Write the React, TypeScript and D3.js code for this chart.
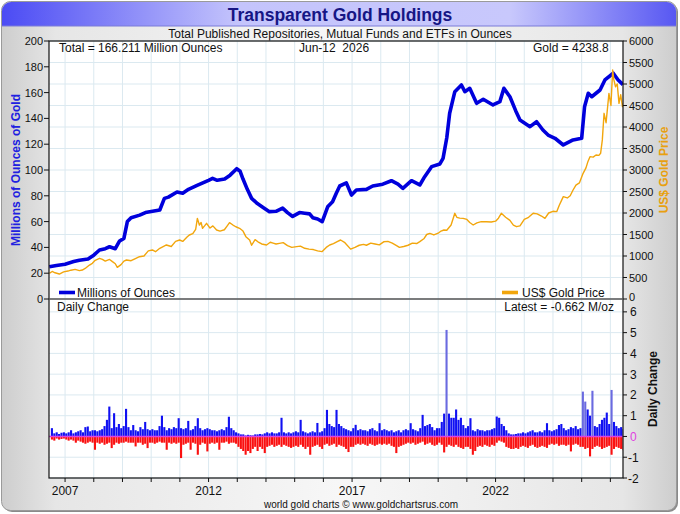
import React from "react";
import * as d3 from "d3";

// ---- Data ----
const HOLD_YEARS = [2006.45, 2006.7, 2007.0, 2007.3, 2007.5, 2007.8, 2008.0, 2008.2, 2008.4, 2008.55, 2008.75, 2008.9, 2009.05, 2009.17, 2009.3, 2009.6, 2009.8, 2010.05, 2010.3, 2010.46, 2010.6, 2010.9, 2011.1, 2011.3, 2011.6, 2011.8, 2012.0, 2012.14, 2012.3, 2012.56, 2012.75, 2012.98, 2013.1, 2013.2, 2013.35, 2013.5, 2013.7, 2013.9, 2014.12, 2014.35, 2014.58, 2014.75, 2014.93, 2015.17, 2015.35, 2015.52, 2015.63, 2015.8, 2015.96, 2016.15, 2016.32, 2016.45, 2016.57, 2016.8, 2016.98, 2017.15, 2017.5, 2017.72, 2018.07, 2018.37, 2018.6, 2018.77, 2019.07, 2019.36, 2019.53, 2019.77, 2020.06, 2020.17, 2020.3, 2020.4, 2020.58, 2020.81, 2020.93, 2021.1, 2021.34, 2021.57, 2021.91, 2022.15, 2022.29, 2022.5, 2022.7, 2022.85, 2023.2, 2023.43, 2023.65, 2023.83, 2024.07, 2024.36, 2024.7, 2025.0, 2025.1, 2025.23, 2025.35, 2025.64, 2025.81, 2026.1, 2026.27, 2026.44];
const HOLD_OZ = [25, 26, 27, 29, 30, 31, 34, 38, 39, 40.5, 39, 45, 47, 60, 63, 65, 67, 68, 69, 78, 79, 83, 82, 85, 88, 90, 92, 93.5, 92, 93, 96, 101, 99, 93, 85, 78, 74, 71, 67.7, 68, 70.5, 67, 64, 67, 66.5, 66, 63, 62, 60, 71.5, 75.4, 82, 87.6, 90, 80.6, 84.5, 85, 87.6, 89, 91.7, 89, 85.8, 91.7, 88.4, 94.8, 102.6, 104.7, 109, 125, 144, 160.7, 165.9, 160.7, 163.3, 151.7, 154.8, 150.4, 153, 163.3, 156.8, 146, 138.8, 133.6, 137.4, 131, 127.1, 124.6, 119.4, 123.3, 124.6, 149, 159.5, 156.8, 162, 169.8, 175, 169.8, 166.2];

const GOLD_YEARS = [2006.45, 2006.55, 2006.65, 2006.8, 2006.95, 2007.1, 2007.2, 2007.35, 2007.5, 2007.6, 2007.7, 2007.85, 2007.95, 2008.05, 2008.2, 2008.3, 2008.4, 2008.55, 2008.65, 2008.75, 2008.82, 2008.95, 2009.05, 2009.14, 2009.3, 2009.45, 2009.59, 2009.75, 2009.9, 2010.04, 2010.15, 2010.3, 2010.45, 2010.53, 2010.7, 2010.85, 2010.99, 2011.1, 2011.25, 2011.33, 2011.45, 2011.55, 2011.61, 2011.68, 2011.74, 2011.79, 2011.86, 2011.93, 2012.05, 2012.15, 2012.28, 2012.4, 2012.55, 2012.65, 2012.73, 2012.85, 2012.95, 2013.08, 2013.2, 2013.3, 2013.43, 2013.5, 2013.62, 2013.72, 2013.85, 2014.02, 2014.15, 2014.25, 2014.35, 2014.47, 2014.6, 2014.75, 2014.9, 2015.07, 2015.2, 2015.35, 2015.5, 2015.65, 2015.8, 2015.95, 2016.1, 2016.22, 2016.35, 2016.5, 2016.6, 2016.75, 2016.95, 2017.1, 2017.25, 2017.4, 2017.5, 2017.65, 2017.8, 2017.95, 2018.1, 2018.25, 2018.4, 2018.55, 2018.65, 2018.8, 2018.95, 2019.1, 2019.25, 2019.36, 2019.5, 2019.6, 2019.71, 2019.85, 2020.0, 2020.1, 2020.2, 2020.3, 2020.45, 2020.58, 2020.65, 2020.75, 2020.87, 2021.0, 2021.1, 2021.22, 2021.35, 2021.5, 2021.68, 2021.85, 2022.0, 2022.1, 2022.2, 2022.35, 2022.5, 2022.62, 2022.73, 2022.85, 2023.0, 2023.15, 2023.31, 2023.45, 2023.6, 2023.72, 2023.85, 2024.0, 2024.13, 2024.22, 2024.36, 2024.5, 2024.6, 2024.7, 2024.8, 2024.92, 2025.05, 2025.15, 2025.22, 2025.29, 2025.4, 2025.5, 2025.6, 2025.66, 2025.72, 2025.78, 2025.85, 2025.95, 2026.02, 2026.08, 2026.12, 2026.18, 2026.24, 2026.3, 2026.36, 2026.42, 2026.44];
const GOLD_USD = [598, 640, 610, 581, 630, 650, 670, 690, 660, 674, 710, 790, 830, 900, 946, 920, 880, 920, 868, 820, 737, 800, 880, 907, 890, 940, 984, 1000, 1120, 1140, 1100, 1180, 1230, 1256, 1220, 1340, 1372, 1340, 1440, 1488, 1520, 1620, 1876, 1720, 1780, 1644, 1700, 1760, 1650, 1700, 1605, 1580, 1610, 1700, 1775, 1720, 1680, 1644, 1580, 1450, 1372, 1250, 1380, 1330, 1280, 1256, 1320, 1300, 1280, 1295, 1310, 1240, 1200, 1217, 1230, 1180, 1160, 1150, 1120, 1101, 1200, 1256, 1290, 1340, 1372, 1310, 1160, 1200, 1250, 1270, 1250, 1300, 1280, 1260, 1330, 1340, 1300, 1240, 1200, 1220, 1250, 1300, 1290, 1333, 1400, 1500, 1527, 1490, 1530, 1580, 1605, 1600, 1720, 1993, 1900, 1880, 1876, 1850, 1780, 1721, 1770, 1800, 1798, 1790, 1810, 1880, 1993, 1900, 1830, 1720, 1682, 1700, 1850, 1900, 1993, 1980, 1930, 1876, 2000, 2040, 2031, 2180, 2380, 2350, 2400, 2535, 2650, 2700, 2923, 3050, 3200, 3310, 3300, 3350, 3340, 3388, 3700, 4318, 4100, 4783, 4500, 5326, 5100, 4937, 5000, 4550, 4750, 4473, 4550];

// Monthly daily-change extremes, Jul 2006 .. Jun 2026 (M oz)
const DAILY_START = 2006.5;
const DAILY_UP = [
  0.4, 0.15, 0.2, 0.12, 0.18, 0.2,
  0.15, 0.2, 0.3, 0.15, 0.2, 0.25, 0.3, 0.2, 0.45, 0.48, 0.25, 0.3,
  0.3, 0.25, 0.3, 0.35, 0.5, 0.8, 1.44, 0.4, 1.12, 0.45, 0.6, 0.4,
  0.5, 1.33, 0.45, 0.3, 0.55, 0.3, 0.25, 0.45, 0.35, 0.7, 0.35, 0.3,
  0.35, 0.3, 0.3, 0.5, 1.0, 0.45, 0.3, 0.4, 0.35, 0.45, 0.4, 0.88,
  0.4, 0.35, 0.4, 0.75, 0.3, 0.35, 0.5, 0.88, 0.4, 0.3, 0.35, 0.4,
  0.35, 0.3, 0.3, 0.25, 0.3, 0.35, 0.3, 0.45, 0.95, 0.4, 0.3, 0.2,
  0.15, 0.1, 0.1, 0.05, 0.08, 0.06, 0.05, 0.1, 0.1, 0.12, 0.1, 0.15,
  0.2, 0.15, 0.2, 0.15, 0.15, 0.2, 0.9, 0.2, 0.15, 0.2, 0.15, 0.2,
  0.25, 0.2, 0.8, 0.25, 0.2, 0.15, 0.2, 0.25, 0.2, 0.65, 0.2, 0.25,
  0.4, 1.28, 0.6, 0.5, 0.45, 1.28, 0.6, 0.5, 0.4, 0.35, 0.3, 0.25,
  0.4, 0.56, 0.3, 0.35, 0.3, 0.3, 0.25, 0.35, 0.4, 0.3, 0.25, 0.64,
  0.3, 0.35, 0.3, 0.25, 0.3, 0.2, 0.25, 0.3, 0.2, 0.3, 0.35, 0.3,
  0.64, 0.35, 0.3, 0.25, 0.4, 1.04, 0.5, 0.55, 0.6, 0.45, 0.3, 0.4,
  0.4, 0.7, 1.1, 5.13, 1.1, 0.9, 0.9, 1.3, 0.8, 0.9, 0.55, 0.4,
  0.5, 0.88, 0.3, 0.25, 0.35, 0.3, 0.3, 0.25, 0.3, 0.3, 0.35, 0.4,
  0.96, 0.9, 0.6, 0.5, 0.3, 0.15, 0.1, 0.1, 0.12, 0.15, 0.15, 0.2,
  0.15, 0.2, 0.25, 0.3, 0.2, 0.2, 0.25, 0.2, 0.3, 0.64, 0.3, 0.25,
  0.3, 0.35, 0.55, 0.6, 0.4, 0.3, 0.35, 0.45, 0.4, 0.5, 0.35, 0.4,
  2.16, 1.68, 1.3, 1.0, 2.2, 0.5, 0.45, 0.6, 0.8, 0.9, 1.15, 0.6,
  2.24, 0.7, 0.5, 0.4, 0.45, 0.35,
];
const DAILY_DOWN = [
  -0.15, -0.2, -0.1, -0.15, -0.12, -0.1,
  -0.15, -0.2, -0.15, -0.2, -0.3, -0.2, -0.25, -0.3, -0.35, -0.3, -0.25, -0.3,
  -0.64, -0.3, -0.35, -0.3, -0.4, -0.35, -0.3, -0.56, -0.4, -0.3, -0.35, -0.3,
  -0.3, -0.25, -0.3, -0.3, -0.3, -0.48, -0.3, -0.3, -0.4, -0.35, -0.56, -0.3,
  -0.3, -0.35, -0.3, -0.25, -0.3, -0.3, -0.64, -0.3, -0.35, -0.3, -0.35, -0.3,
  -1.04, -0.4, -0.35, -0.3, -0.64, -0.3, -0.35, -0.88, -0.4, -0.3, -0.35, -0.72,
  -0.35, -0.3, -0.35, -0.3, -0.64, -0.3, -0.3, -0.25, -0.35, -0.3, -0.3, -0.35,
  -0.5, -0.6, -0.7, -0.88, -0.7, -0.8, -0.6, -0.5, -0.7, -0.5, -0.6, -0.8,
  -0.5, -0.45, -0.4, -0.5, -0.45, -0.4, -0.5, -0.4, -0.45, -0.5, -0.55, -0.5,
  -0.45, -0.5, -0.4, -0.5, -0.6, -0.5, -0.88, -0.5, -0.45, -0.4, -0.5, -0.6,
  -0.4, -0.35, -0.45, -0.4, -0.35, -0.5, -0.4, -0.45, -0.5, -0.6, -0.75, -0.5,
  -0.5, -0.4, -0.35, -0.4, -0.35, -0.4, -0.45, -0.35, -0.4, -0.45, -0.4, -0.35,
  -0.4, -0.35, -0.4, -0.35, -0.45, -0.5, -0.8, -0.5, -0.45, -0.4, -0.35, -0.3,
  -0.35, -0.3, -0.4, -0.35, -0.3, -0.25, -0.4, -0.35, -0.3, -0.4, -0.45, -0.4,
  -0.3, -0.4, -0.77, -0.5, -0.4, -0.45, -0.5, -0.4, -0.5, -0.55, -0.6, -0.5,
  -0.5, -0.6, -0.88, -0.7, -0.5, -0.45, -0.5, -0.4, -0.45, -0.5, -0.4, -0.45,
  -0.3, -0.2, -0.25, -0.3, -0.5, -0.55, -0.6, -0.6, -0.55, -0.6, -0.5, -0.45,
  -0.5, -0.55, -0.45, -0.4, -0.5, -0.55, -0.5, -0.45, -0.5, -0.55, -0.4, -0.35,
  -0.4, -0.35, -0.45, -0.4, -0.4, -0.45, -0.4, -0.72, -0.4, -0.35, -0.4, -0.5,
  -0.5, -0.6, -0.55, -0.96, -0.6, -0.5, -0.45, -0.5, -0.6, -0.55, -0.5, -0.45,
  -0.88, -0.6, -0.5, -0.55, -0.6, -0.66,
];

const X_DOMAIN = [2006.44, 2026.44];
const YEAR_TICKS = d3.range(2007, 2027);
const YEAR_LABELS = [2007, 2012, 2017, 2022];
const OZ_TICKS = d3.range(0, 201, 20);
const USD_TICKS = d3.range(0, 6001, 500);
const CHANGE_TICKS = d3.range(-2, 7, 1);

const TITLE = "Transparent Gold Holdings";
const SUBTITLE = "Total Published Repositories, Mutual Funds and ETFs in Ounces";
const TOTAL_TEXT = "Total = 166.211 Million Ounces";
const DATE_TEXT = "Jun-12  2026";
const GOLD_TEXT = "Gold = 4238.8";
const LATEST_TEXT = "Latest = -0.662 M/oz";

const FONT = "'Liberation Sans', Arial, Helvetica, sans-serif";

export default function App() {
  const W = 680, H = 514;
  const L = 49, R = 623, T = 41, MID = 299, B = 478;

  const x = d3.scaleLinear().domain(X_DOMAIN).range([L, R]);
  const yOz = d3.scaleLinear().domain([0, 200]).range([MID, T]);
  const yUsd = d3.scaleLinear().domain([0, 6000]).range([MID, T]);
  const yCh = d3.scaleLinear().domain([-2, 6.62]).range([B, MID]);

  const holdLine = d3.line<number>().x((_, i) => x(HOLD_YEARS[i])).y((v) => yOz(v));
  const goldLine = d3.line<number>().x((_, i) => x(GOLD_YEARS[i])).y((v) => yUsd(v));

  const monthW = x(DAILY_START + 1 / 12) - x(DAILY_START);
  const barW = monthW * 0.88;
  const gridColor = "#dbe9f0";

  return (
    <svg width={W} height={H} style={{ position: "absolute", left: 0, top: 0 }} fontFamily={FONT}>
      <defs>
        <linearGradient id="bg" x1="0" x2="1" y1="0" y2="0">
          <stop offset="0" stopColor="#cdcdcd" />
          <stop offset="0.08" stopColor="#e6e6e6" />
          <stop offset="0.5" stopColor="#f7f7f7" />
          <stop offset="0.92" stopColor="#e6e6e6" />
          <stop offset="1" stopColor="#cdcdcd" />
        </linearGradient>
        <linearGradient id="titlebg" x1="0" x2="1" y1="0" y2="0">
          <stop offset="0" stopColor="#4a4af4" />
          <stop offset="0.35" stopColor="#c4c4fc" />
          <stop offset="0.75" stopColor="#c8c8fc" />
          <stop offset="1" stopColor="#5555f2" />
        </linearGradient>
        <clipPath id="titleclip">
          <rect x={2} y={2} width={W - 6} height={H - 6} rx={9} />
        </clipPath>
        <clipPath id="plotclip">
          <rect x={L} y={T} width={R - L} height={B - T} />
        </clipPath>
      </defs>

      {/* card */}
      <rect x={3} y={3} width={W - 5} height={H - 5} rx={9} fill="#8a8a8a" />
      <rect x={1.5} y={1.5} width={W - 5} height={H - 5} rx={9} fill="url(#bg)" stroke="#9a9a9a" strokeWidth={1} />
      <g clipPath="url(#titleclip)">
        <rect x={0} y={0} width={W} height={26} fill="url(#titlebg)" />
        <line x1={0} x2={W} y1={26} y2={26} stroke="#7a7ad8" strokeWidth={1} />
      </g>
      <text x={340} y={21} textAnchor="middle" fontSize={17.5} fontWeight="bold" fill="#161685">{TITLE}</text>
      <text x={340} y={37.5} textAnchor="middle" fontSize={12} fill="#111">{SUBTITLE}</text>

      {/* plot background */}
      <rect x={L} y={T} width={R - L} height={B - T} fill="#ffffff" />

      {/* grid */}
      <g stroke={gridColor} strokeWidth={1}>
        {YEAR_TICKS.map((yr) => (
          <line key={"v" + yr} x1={x(yr)} x2={x(yr)} y1={T} y2={B} />
        ))}
        {USD_TICKS.map((v) => (
          <line key={"hu" + v} x1={L} x2={R} y1={yUsd(v)} y2={yUsd(v)} />
        ))}
        {CHANGE_TICKS.map((v) => (
          <line key={"hc" + v} x1={L} x2={R} y1={yCh(v)} y2={yCh(v)} />
        ))}
      </g>

      {/* daily change bars */}
      <g clipPath="url(#plotclip)">
        {DAILY_UP.map((v, i) => {
          const xc = x(DAILY_START + (i + 0.5) / 12);
          return (
            <rect key={"u" + i} x={xc - barW / 2} width={barW} y={yCh(v)} height={yCh(0) - yCh(v)}
              fill={v > 1.5 ? "#6a6ae0" : "#1010f2"} />
          );
        })}
        {DAILY_DOWN.map((v, i) => {
          const xc = x(DAILY_START + (i + 0.5) / 12);
          return (
            <rect key={"d" + i} x={xc - barW / 2} width={barW} y={yCh(0)} height={yCh(v) - yCh(0)} fill="#fa1010" />
          );
        })}
        <line x1={L} x2={R} y1={yCh(0)} y2={yCh(0)} stroke="#e040e0" strokeWidth={1.5} />
      </g>

      {/* lines */}
      <g clipPath="url(#plotclip)">
        <path d={holdLine(HOLD_OZ) || ""} fill="none" stroke="#0000dc" strokeWidth={3.6} strokeLinejoin="round" />
        <path d={goldLine(GOLD_USD) || ""} fill="none" stroke="#f2a60c" strokeWidth={1.4} strokeLinejoin="round" />
      </g>

      {/* frame */}
      <rect x={L} y={T} width={R - L} height={B - T} fill="none" stroke="#111" strokeWidth={1.2} />
      <line x1={L} x2={R} y1={MID} y2={MID} stroke="#555" strokeWidth={1.5} />

      {/* left axis */}
      <g fontSize={11} fill="#111">
        {OZ_TICKS.map((v) => (
          <g key={"lo" + v}>
            <line x1={L - 5} x2={L} y1={yOz(v)} y2={yOz(v)} stroke="#111" />
            <text x={L - 6} y={yOz(v) + 4} textAnchor="end">{v}</text>
          </g>
        ))}
      </g>
      {/* right axis upper */}
      <g fontSize={11} fill="#111">
        {USD_TICKS.map((v) => (
          <g key={"ru" + v}>
            <line x1={R} x2={R + 4} y1={yUsd(v)} y2={yUsd(v)} stroke="#111" />
            <text x={R + 6} y={yUsd(v) + (v === 0 ? 2 : 4)}>{v}</text>
          </g>
        ))}
      </g>
      {/* right axis lower */}
      <g fontSize={12} fill="#111">
        {CHANGE_TICKS.map((v) => (
          <g key={"rc" + v}>
            <line x1={R} x2={R + 4} y1={yCh(v)} y2={yCh(v)} stroke="#111" />
            <text x={R + (v < 0 ? 5 : 7)} y={yCh(v) + 4.5} fill={v === 0 ? "#e040e0" : "#111"}>{v}</text>
          </g>
        ))}
      </g>
      {/* x axis */}
      <g>
        {YEAR_TICKS.map((yr) => (
          <line key={"xt" + yr} x1={x(yr)} x2={x(yr)} y1={B} y2={B + 4} stroke="#111" />
        ))}
        {YEAR_LABELS.map((yr) => (
          <text key={"xl" + yr} x={x(yr)} y={495} textAnchor="middle" fontSize={12} fill="#111">{yr}</text>
        ))}
      </g>

      {/* in-plot texts */}
      <g fontSize={12} fill="#111">
        <text x={59} y={52}>{TOTAL_TEXT}</text>
        <text x={299} y={52} style={{ whiteSpace: "pre" }}>{DATE_TEXT}</text>
        <text x={533} y={52}>{GOLD_TEXT}</text>
        <text x={77} y={297}>Millions of Ounces</text>
        <text x={522} y={297}>US$ Gold Price</text>
        <text x={57} y={311}>Daily Change</text>
        <text x={614} y={311} textAnchor="end">{LATEST_TEXT}</text>
      </g>
      <line x1={59} x2={75} y1={292.5} y2={292.5} stroke="#0000dc" strokeWidth={3.6} />
      <line x1={502} x2={518} y1={292.5} y2={292.5} stroke="#f2a60c" strokeWidth={3.6} />

      {/* axis titles */}
      <text transform="translate(20,170) rotate(-90)" textAnchor="middle" fontSize={12} fontWeight="bold" fill="#2020e0">Millions of Ounces of Gold</text>
      <text transform="translate(668,170) rotate(-90)" textAnchor="middle" fontSize={12} fontWeight="bold" fill="#e8a010">US$ Gold Price</text>
      <text transform="translate(657,389) rotate(-90)" textAnchor="middle" fontSize={12} fontWeight="bold" fill="#111">Daily Change</text>

      {/* footer */}
      <text x={361} y={508} textAnchor="middle" fontSize={10} fill="#111">world gold charts © www.goldchartsrus.com</text>
    </svg>
  );
}
